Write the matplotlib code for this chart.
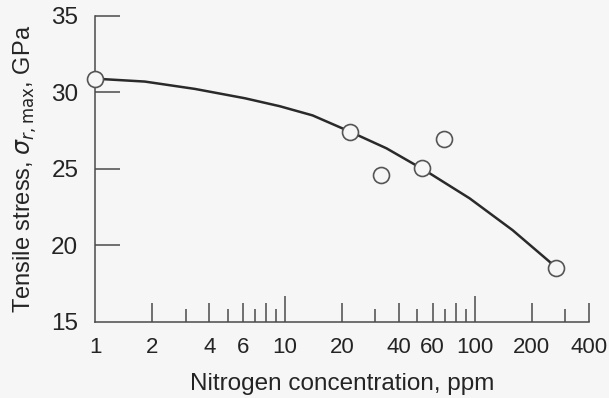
import numpy as np
import matplotlib.pyplot as plt
from matplotlib.ticker import FixedLocator, FixedFormatter

plt.rcParams['font.family'] = ['Liberation Sans', 'DejaVu Sans']

# measured points
conc = [1, 22, 32, 53, 69, 268]
stress = [30.9, 27.4, 24.6, 25.05, 26.95, 18.5]

# fitted curve
curve_conc = [1, 1.83, 3.36, 6.16, 9.4, 14.0, 22.2, 34.3, 55.7, 94.1, 158.5, 248, 268]
curve_stress = [30.9, 30.71, 30.23, 29.62, 29.1, 28.5, 27.42, 26.35, 24.85, 23.08, 21.0, 18.94, 18.5]

xticks = [1, 2, 3, 4, 5, 6, 7, 8, 9, 10, 20, 30, 40, 50, 60, 70, 80, 90, 100, 200, 300, 400]
xlabels = ['1', '2', '', '4', '', '6', '', '', '', '10', '20', '', '40', '', '60', '', '', '', '100', '200', '', '400']
yticks = [15, 20, 25, 30, 35]

bg = '#f6f6f6'
ink = '#4a4a4a'
txt = '#242424'

fig = plt.figure(figsize=(6.09, 3.98), dpi=100, facecolor=bg)
ax = fig.add_axes([0.156, 0.191, 0.811, 0.769], facecolor=bg)

ax.plot(curve_conc, curve_stress, color='#2a2a2a', lw=1.8, zorder=2)
ax.plot(conc, stress, 'o', ms=11.5, mfc=bg, mec='#555555', mew=1.2, clip_on=False, zorder=3)

ax.set_xscale('log')
ax.set_xlim(1, 400)
ax.set_ylim(15, 35)

ax.xaxis.set_major_locator(FixedLocator(xticks))
ax.xaxis.set_major_formatter(FixedFormatter(xlabels))
ax.xaxis.set_minor_locator(FixedLocator([]))
ax.set_yticks(yticks)

ax.tick_params(axis='x', direction='in', length=13.5, width=1.1, color=ink, pad=10.5,
               labelsize=16, labelcolor=txt)
ax.tick_params(axis='y', direction='in', length=18, width=1.1, color=ink, pad=12,
               labelsize=17.5, labelcolor=txt)

# tick lengths: long at decades, short at odd values
for t, v in zip(ax.xaxis.get_major_ticks(), xticks):
    if v in (10, 100):
        t.tick1line.set_markersize(18.5)
    elif str(v)[0] in '3579':
        t.tick1line.set_markersize(9.5)
    if v == 1:
        t.tick1line.set_visible(False)
ax.yaxis.get_major_ticks()[0].tick1line.set_visible(False)

for s in ['top', 'right']:
    ax.spines[s].set_visible(False)
for s in ['left', 'bottom']:
    ax.spines[s].set_color(ink)
    ax.spines[s].set_linewidth(1.1)

ax.set_xlabel('Nitrogen concentration, ppm', fontsize=17.5, color=txt, labelpad=11)
ax.set_ylabel(r'Tensile stress, $\sigma_{r,\mathrm{max}}$, GPa', fontsize=17, color=txt, labelpad=9)

plt.savefig('out.png', dpi=100, facecolor=bg)
